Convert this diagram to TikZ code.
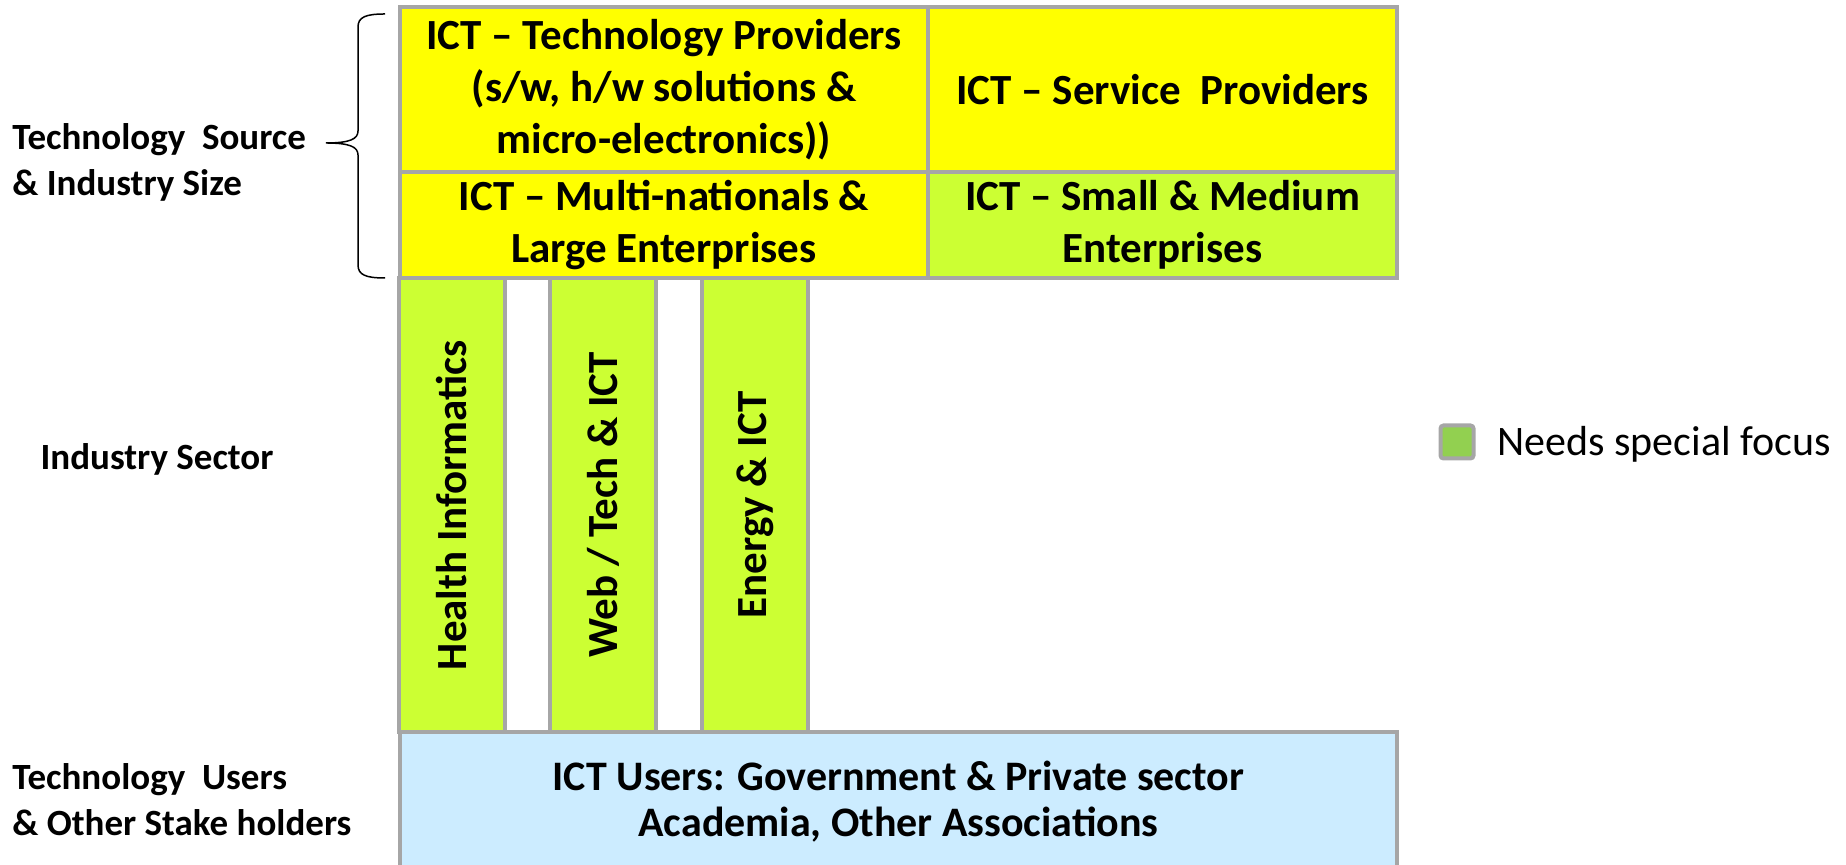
\documentclass[tikz,border=0pt]{standalone}
\usepackage{fontspec}
\setmainfont{Carlito}
\definecolor{cellgray}{HTML}{A6A6A6}
\definecolor{ictyellow}{HTML}{FFFF00}
\definecolor{ictlime}{HTML}{CCFF33}
\definecolor{ictblue}{HTML}{CCECFF}
\definecolor{focusgreen}{HTML}{92D050}
\newcommand{\cellfont}{\bfseries\fontsize{21.5}{26}\selectfont}
\newcommand{\userfont}{\bfseries\fontsize{21}{23}\selectfont}
\newcommand{\sidefont}{\bfseries\fontsize{18.5}{23}\selectfont}
\newcommand{\keyfont}{\fontsize{21}{25}\selectfont}
\begin{document}
\begin{tikzpicture}[x=0.5pt, y=0.5pt,
  cell/.style={draw=cellgray, line width=2pt, inner sep=0pt, align=center, font=\cellfont},
  bar/.style={cell, fill=ictlime, minimum width=53pt, minimum height=227pt},
  sidelabel/.style={font=\sidefont, align=left, inner sep=0pt}]
\useasboundingbox (0,0) rectangle (1846,865);
\clip (0,0) rectangle (1846,865);

% technology source and industry size
\node[cell, fill=ictyellow, minimum width=264pt, minimum height=82.5pt] (tp) at (664,775.5)
  {ICT -- Technology Providers\\(s/w, h/w solutions \&\\micro-electronics))};
\node[cell, fill=ictyellow, minimum width=234.5pt, minimum height=82.5pt] (sp) at (1162.5,775.5)
  {ICT -- Service\ \ Providers};
\node[cell, fill=ictyellow, minimum width=264pt, minimum height=53pt] (mn) at (664,640)
  {ICT -- Multi-nationals \&\\Large Enterprises};
\node[cell, fill=ictlime, minimum width=234.5pt, minimum height=53pt] (sme) at (1162.5,640)
  {ICT -- Small \& Medium\\Enterprises};

% industry sectors
\node[bar] (hi) at (452,360) {};
\node[bar] (web) at (603,360) {};
\node[bar] (en) at (755,360) {};
\node[font=\cellfont, rotate=90] (hit) at (hi) {Health Informatics};
\node[font=\cellfont, rotate=90] (webt) at (web) {Web / Tech \& ICT};
\node[font=\cellfont, rotate=90] (ent) at (en) {Energy \& ICT};

% technology users
\node[cell, fill=ictblue, font=\userfont, minimum width=498.5pt, minimum height=70pt] (users) at (898.5,63)
  {ICT Users: Government \& Private sector\\Academia, Other Associations};

% row labels
\node[sidelabel, anchor=west] (src) at (12,703) {Technology\ \ Source\\\& Industry Size};
\node[sidelabel] (sector) at (157,406) {Industry Sector};
\node[sidelabel, anchor=west] (usr) at (12,65) {Technology\ \ Users\\\& Other Stake holders};

% brace grouping the two upper rows
\draw[line width=0.75pt, black]
  (385,851) .. controls (366,851) and (358,848) .. (358,838) -- (358,734)
  .. controls (358,726) and (350,722) .. (326,722)
  .. controls (350,722) and (358,718) .. (358,710) -- (358,600)
  .. controls (358,590) and (366,587) .. (385,587);

% legend
\node[draw=cellgray, fill=focusgreen, line width=2pt, rounded corners=1.5pt,
  minimum size=16.5pt, inner sep=0pt] (key) at (1457,423) {};
\node[font=\keyfont, anchor=west, inner sep=0pt] (keytext) at (1497,421) {Needs special focus};
\end{tikzpicture}
\end{document}
